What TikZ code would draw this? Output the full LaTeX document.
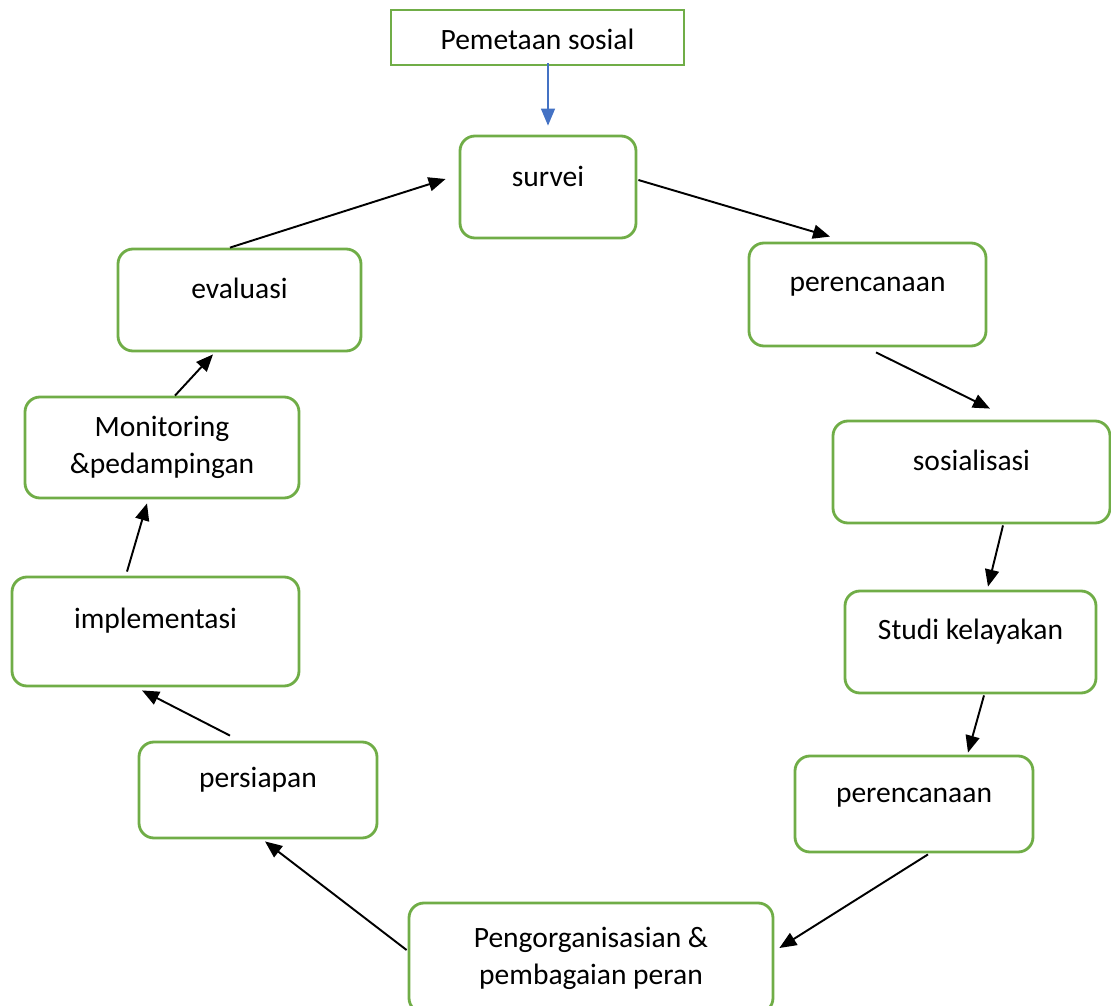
\documentclass[tikz,border=0pt]{standalone}
\usepackage{fontspec}
\setmainfont{Carlito}
\usepackage{tikz}
\usetikzlibrary{arrows.meta,positioning}
\definecolor{boxgreen}{RGB}{112,173,71}
\definecolor{flowblue}{RGB}{68,114,196}

\begin{document}
\begin{tikzpicture}[>={Triangle[length=0.34cm,width=0.28cm]}, font=\fontsize{16.8}{21}\selectfont,
  box/.style={draw=boxgreen,line width=1.6pt,rounded corners=0.3cm,align=center,inner sep=0pt},
  flow/.style={->,line width=1.1pt}]
\useasboundingbox (0,0) rectangle (22.22,-20.12);
\clip (0,0) rectangle (22.22,-20.12);

\node(pemetaan)[box,rounded corners=0pt,minimum width=5.86cm,minimum height=1.1cm,text height=0.78cm,text depth=0.32cm] at (10.75,-0.75) {Pemetaan sosial};
\node(survei)[box,minimum width=3.52cm,minimum height=2.04cm,text height=1.0cm,text depth=1.04cm] at (10.96,-3.74) {survei};
\node(rencanaA)[box,minimum width=4.74cm,minimum height=2.06cm,text height=0.96cm,text depth=1.10cm] at (17.35,-5.89) {perencanaan};
\node(sosialisasi)[box,minimum width=5.54cm,minimum height=2.04cm,text height=0.98cm,text depth=1.06cm] at (19.43,-9.44) {sosialisasi};
\node(studi)[box,minimum width=5.02cm,minimum height=2.04cm,text height=0.96cm,text depth=1.08cm] at (19.41,-12.84) {Studi kelayakan};
\node(rencanaB)[box,minimum width=4.76cm,minimum height=1.92cm,text height=0.92cm,text depth=1.0cm] at (18.28,-16.08) {perencanaan};
\node(organisasi)[box,minimum width=7.28cm,minimum height=2.2cm] at (11.82,-19.16) {Pengorganisasian \&\\pembagaian peran};
\node(persiapan)[box,minimum width=4.76cm,minimum height=1.92cm,text height=0.90cm,text depth=1.02cm] at (5.16,-15.8) {persiapan};
\node(implementasi)[box,minimum width=5.74cm,minimum height=2.18cm,text height=1.02cm,text depth=1.16cm] at (3.11,-12.63) {implementasi};
\node(monitoring)[box,minimum width=5.48cm,minimum height=2.02cm] at (3.24,-8.95) {Monitoring\\\&pedampingan};
\node(evaluasi)[box,minimum width=4.86cm,minimum height=2.04cm,text height=0.98cm,text depth=1.06cm] at (4.79,-6.0) {evaluasi};

\draw[->,flowblue,line width=0.8pt] ([shift={(0.21,0.06)}]pemetaan.south) -- ([yshift=0.18cm]survei.north);

\draw[flow] ([xshift=-0.19cm]evaluasi.north) -- ([shift={(-0.26,0.16)}]survei.west);
\draw[flow] ([shift={(0.02,0.14)}]survei.east) -- ([shift={(-0.75,0.1)}]rencanaA.north);
\draw[flow] ([shift={(0.17,-0.1)}]rencanaA.south) -- ([shift={(0.37,0.22)}]sosialisasi.north);
\draw[flow] ([shift={(0.63,-0.02)}]sosialisasi.south) -- ([shift={(0.35,0.06)}]studi.north);
\draw[flow] ([shift={(0.27,-0.02)}]studi.south) -- ([shift={(1.08,0.04)}]rencanaB.north);
\draw[flow] ([shift={(0.28,-0.02)}]rencanaB.south) -- ([shift={(0.1,0.2)}]organisasi.east);
\draw[flow] ([shift={(-0.02,0.16)}]organisasi.west) -- ([shift={(0.14,-0.04)}]persiapan.south);
\draw[flow] ([shift={(-0.56,0.1)}]persiapan.north) -- ([shift={(-0.27,-0.06)}]implementasi.south);
\draw[flow] ([shift={(-0.57,0.08)}]implementasi.north) -- ([shift={(-0.3,-0.08)}]monitoring.south);
\draw[flow] ([xshift=0.26cm]monitoring.north) -- ([shift={(-0.53,-0.04)}]evaluasi.south);

\end{tikzpicture}
\end{document}
